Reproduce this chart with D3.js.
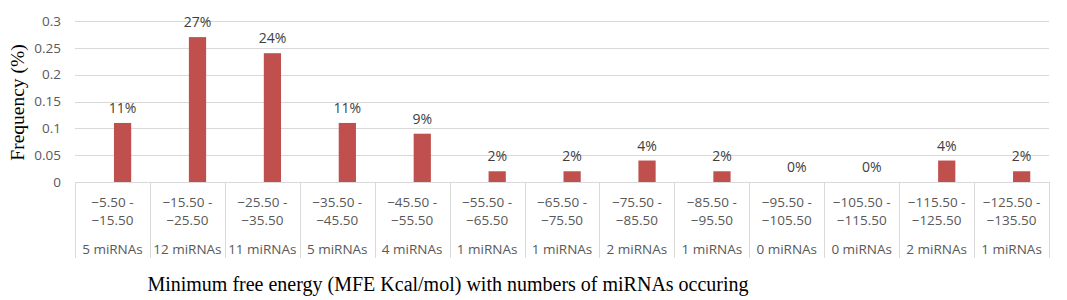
<!DOCTYPE html>
<html>
<head>
<meta charset="utf-8">
<script src="https://cdn.jsdelivr.net/npm/d3@7"></script>
<style>
  body { margin: 0; background: #fff; }
  text { font-family: "Open Sans", sans-serif; }
</style>
</head>
<body>
<div id="chart"></div>
<script>
// data
var rangeFrom = ["\u22125.50", "\u221215.50", "\u221225.50", "\u221235.50", "\u221245.50", "\u221255.50", "\u221265.50",
                 "\u221275.50", "\u221285.50", "\u221295.50", "\u2212105.50", "\u2212115.50", "\u2212125.50"];
var rangeTo = ["\u221215.50", "\u221225.50", "\u221235.50", "\u221245.50", "\u221255.50", "\u221265.50", "\u221275.50",
               "\u221285.50", "\u221295.50", "\u2212105.50", "\u2212115.50", "\u2212125.50", "\u2212135.50"];
var mirnaCounts = [5, 12, 11, 5, 4, 1, 1, 2, 1, 0, 0, 2, 1];
var frequency = [0.11, 0.27, 0.24, 0.11, 0.09, 0.02, 0.02, 0.04, 0.02, 0, 0, 0.04, 0.02];
var yTicks = [0, 0.05, 0.1, 0.15, 0.2, 0.25, 0.3];

var width = 1067, height = 300;
var margin = {top: 21, right: 18, bottom: 118, left: 75};
var innerW = width - margin.left - margin.right,
    innerH = height - margin.top - margin.bottom;

var svg = d3.select("#chart")
    .append("svg")
    .attr("width", width)
    .attr("height", height);

var g = svg.append("g")
    .attr("transform", "translate(" + margin.left + "," + margin.top + ")");

var x = d3.scaleBand()
    .domain(d3.range(frequency.length))
    .range([0, innerW])
    .padding(0);

var y = d3.scaleLinear()
    .domain([0, 0.3])
    .range([innerH, 0]);

// gridlines
g.append("g")
  .selectAll("line")
  .data(yTicks)
  .enter()
  .append("line")
  .attr("x1", 0)
  .attr("x2", innerW)
  .attr("y1", function(d) { return Math.round(y(d)) + 0.5; })
  .attr("y2", function(d) { return Math.round(y(d)) + 0.5; })
  .attr("stroke", "#d9d9d9")
  .attr("stroke-width", 1);

// y axis tick labels
var yAxis = g.append("g")
  .call(d3.axisLeft(y).tickValues(yTicks).tickSize(0).tickPadding(14)
        .tickFormat(function(d) { return d3.format("")(+d.toFixed(2)); }));
yAxis.select(".domain").remove();
yAxis.selectAll("text")
  .attr("fill", "#595959")
  .style("font-size", "13.5px")
  .style("font-family", "Open Sans, sans-serif");

// category dividers below the axis
var divH = 76;
g.append("g")
  .selectAll("line")
  .data(d3.range(frequency.length + 1))
  .enter()
  .append("line")
  .attr("x1", function(d) { return Math.round(d * x.bandwidth()) + 0.5; })
  .attr("x2", function(d) { return Math.round(d * x.bandwidth()) + 0.5; })
  .attr("y1", innerH)
  .attr("y2", innerH + divH)
  .attr("stroke", "#d9d9d9");

// bars, sitting right of the band centre like the original
var barW = x.bandwidth() * 0.23;
var barOff = x.bandwidth() * 0.635;
g.append("g")
  .selectAll("rect")
  .data(frequency)
  .enter()
  .append("rect")
  .attr("x", function(d, i) { return x(i) + barOff - barW / 2; })
  .attr("y", function(d) { return y(d); })
  .attr("width", barW)
  .attr("height", function(d) { return innerH - y(d); })
  .attr("fill", "#c0504d");

// axis baseline
g.append("line")
  .attr("x1", 0).attr("x2", innerW)
  .attr("y1", innerH + 0.5).attr("y2", innerH + 0.5)
  .attr("stroke", "#d9d9d9");

// value labels
g.append("g")
  .selectAll("text")
  .data(frequency)
  .enter()
  .append("text")
  .attr("x", function(d, i) { return x(i) + barOff; })
  .attr("y", function(d) { return y(d) - 10; })
  .attr("text-anchor", "middle")
  .attr("fill", "#404040")
  .style("font-size", "14px")
  .text(function(d) { return Math.round(d * 100) + "%"; });

// category labels
var cat = g.append("g")
  .selectAll("text")
  .data(frequency)
  .enter()
  .append("text")
  .attr("text-anchor", "middle")
  .attr("fill", "#595959")
  .style("font-size", "13.5px");

cat.append("tspan")
  .attr("x", function(d, i) { return x(i) + x.bandwidth() / 2; })
  .attr("y", innerH + 25)
  .text(function(d, i) { return rangeFrom[i] + " -"; });
cat.append("tspan")
  .attr("x", function(d, i) { return x(i) + x.bandwidth() / 2; })
  .attr("y", innerH + 43)
  .text(function(d, i) { return rangeTo[i]; });
cat.append("tspan")
  .attr("x", function(d, i) { return x(i) + x.bandwidth() / 2; })
  .attr("y", innerH + 72)
  .text(function(d, i) { return mirnaCounts[i] + " miRNAs"; });

// axis titles
svg.append("text")
  .attr("transform", "translate(24," + (margin.top + innerH / 2 + 1) + ") rotate(-90)")
  .attr("text-anchor", "middle")
  .style("font-family", "Liberation Serif, Times New Roman, serif")
  .style("font-size", "19.5px")
  .attr("fill", "#000")
  .text("Frequency (%)");

svg.append("text")
  .attr("x", 448)
  .attr("y", 291)
  .attr("text-anchor", "middle")
  .style("font-family", "Liberation Serif, Times New Roman, serif")
  .style("font-size", "20px")
  .attr("fill", "#000")
  .text("Minimum free energy (MFE Kcal/mol) with numbers of miRNAs occuring");
</script>
</body>
</html>
